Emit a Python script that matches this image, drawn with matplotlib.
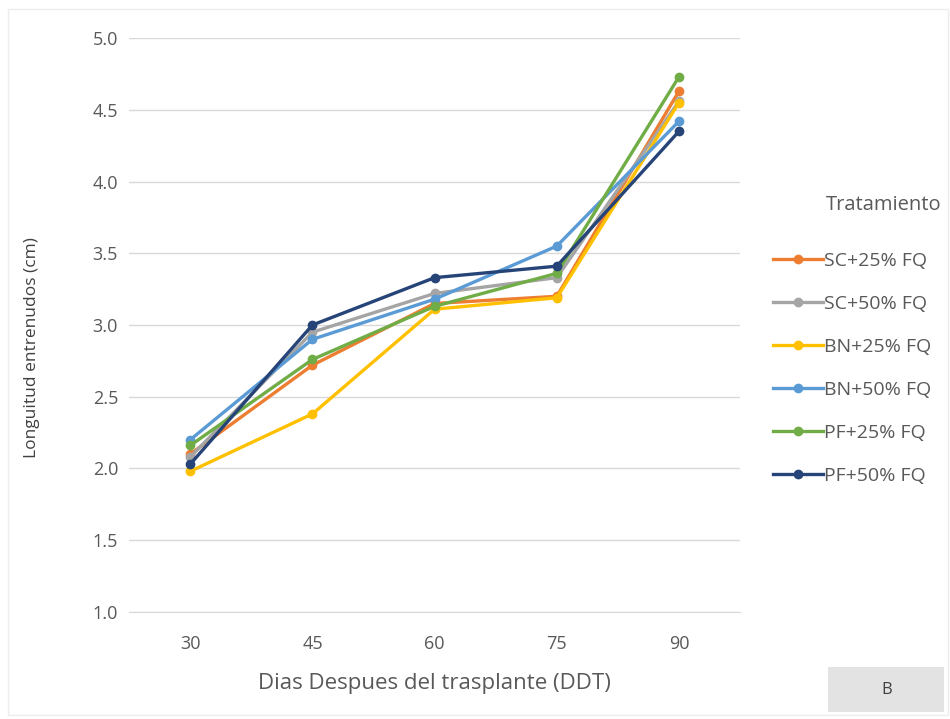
import matplotlib
matplotlib.use("Agg")
import matplotlib.pyplot as plt
from matplotlib.lines import Line2D
from matplotlib.patches import Rectangle

# Internode length per treatment over days after transplant
dias = ["30", "45", "60", "75", "90"]
tratamientos = ["SC+25% FQ", "SC+50% FQ", "BN+25% FQ",
                "BN+50% FQ", "PF+25% FQ", "PF+50% FQ"]
sc25 = [2.10, 2.72, 3.15, 3.20, 4.63]
sc50 = [2.08, 2.95, 3.22, 3.33, 4.56]
bn25 = [1.98, 2.38, 3.11, 3.19, 4.55]
bn50 = [2.20, 2.90, 3.18, 3.55, 4.42]
pf25 = [2.16, 2.76, 3.13, 3.36, 4.73]
pf50 = [2.03, 3.00, 3.33, 3.41, 4.35]
colores = ["#ED7D31", "#A5A5A5", "#FFC000", "#5B9BD5", "#70AD47", "#264478"]

plt.rcParams["font.family"] = ["Open Sans", "DejaVu Sans"]
txt = "#595959"

fig = plt.figure(figsize=(9.5, 7.19), dpi=100)
ax = fig.add_axes([0.136, 0.149, 0.643, 0.798])

x = range(len(dias))
for nombre, vals, c in zip(tratamientos, [sc25, sc50, bn25, bn50, pf25, pf50], colores):
    ax.plot(x, vals, color=c, lw=2.4, marker="o", ms=6, label=nombre)

ax.set_xlim(-0.5, len(dias) - 0.5)
ax.set_ylim(1.0, 5.0)
ax.set_xticks(list(x))
ax.set_xticklabels(dias)
ax.set_yticks([1.0 + 0.5 * i for i in range(9)])
ax.set_yticklabels([f"{1.0 + 0.5 * i:.1f}" for i in range(9)])
ax.grid(axis="y", color="#D9D9D9", lw=1)
ax.set_axisbelow(True)
for s in ["top", "right", "left"]:
    ax.spines[s].set_visible(False)
ax.spines["bottom"].set_color("#D9D9D9")
ax.tick_params(length=0, labelsize=13, colors=txt)
ax.tick_params(axis="x", pad=17)
ax.tick_params(axis="y", pad=8)
ax.set_xlabel("Dias Despues del trasplante (DDT)", fontsize=16, color=txt)
ax.xaxis.set_label_coords(0.5, -0.106)
ax.set_ylabel("Longuitud entrenudos (cm)", fontsize=12.5, color="#404040")
ax.yaxis.set_label_coords(-0.146, 0.46)

# legend on the right
fig.text(0.991, 0.715, "Tratamiento", ha="right", va="center", fontsize=14.5, color=txt)
handles = [Line2D([], [], color=c, lw=2.4, marker="o", ms=6) for c in colores]
leg = fig.legend(handles, tratamientos, loc="upper left",
                 bbox_to_anchor=(0.805, 0.66), frameon=False, fontsize=14,
                 labelspacing=1.28, handlelength=2.6,
                 handletextpad=0.05, borderaxespad=0)
for t in leg.get_texts():
    t.set_color(txt)

# panel tag box
fig.patches.append(Rectangle((0.872, 0.010), 0.122, 0.062, transform=fig.transFigure,
                             facecolor="#E3E3E3", edgecolor="none"))
fig.text(0.933, 0.041, "B", ha="center", va="center", fontsize=12, color="#404040")

# faint frame around the chart area
fig.patches.append(Rectangle((0.008, 0.005), 0.99, 0.983, transform=fig.transFigure,
                             facecolor="none", edgecolor="#EDEDED", lw=1))

fig.savefig("out.png", dpi=100)
